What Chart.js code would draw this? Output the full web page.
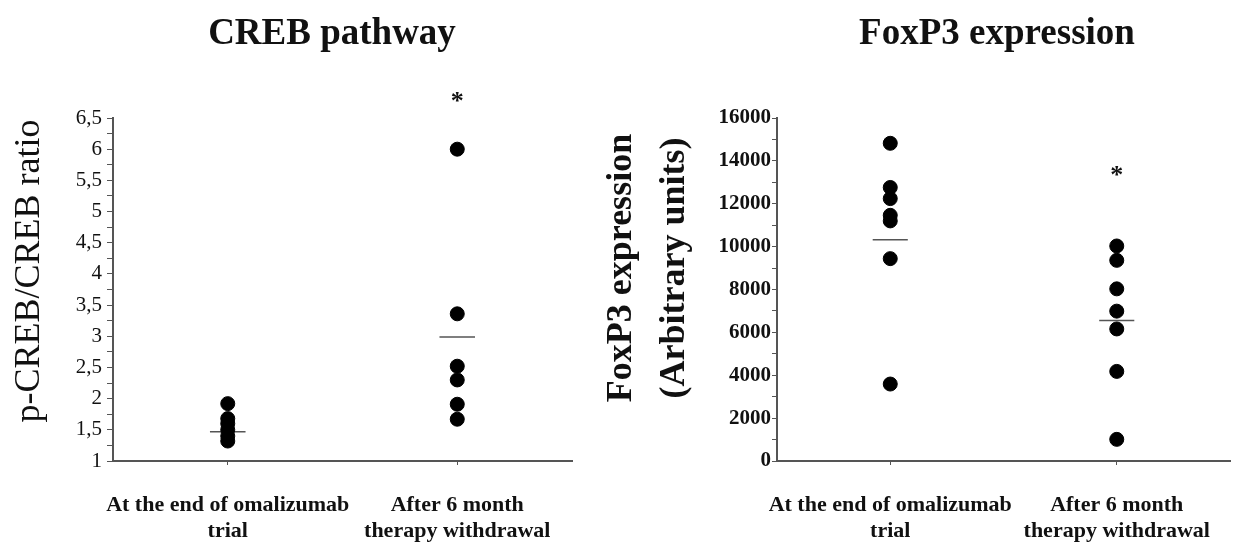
<!DOCTYPE html>
<html>
<head>
<meta charset="utf-8">
<script src="https://cdn.jsdelivr.net/npm/chart.js@4"></script>
<style>
  body { margin: 0; background: #fff; }
  #creb { position: absolute; left: 0; top: 0; }
  #foxp3 { position: absolute; left: 590px; top: 0; }
</style>
</head>
<body>
<canvas id="creb" width="590" height="542"></canvas>
<canvas id="foxp3" width="656" height="542"></canvas>
<script>
// groups on the x axis (placed at 1 and 3 on a 0..4 scale)
var categories = [["At the end of omalizumab", "trial"], ["After 6 month", "therapy withdrawal"]];
var groupPos = [1, 3];

// CREB pathway: p-CREB/CREB ratio
var crebEnd = [1.92, 1.68, 1.6, 1.5, 1.4, 1.32];
var crebAfter = [6.0, 3.36, 2.52, 2.3, 1.91, 1.67];
var crebMeans = [1.47, 2.99];
var crebStar = 6.82;

// FoxP3 expression (arbitrary units)
var foxEnd = [14820, 12760, 12240, 11460, 11200, 9440, 3590];
var foxAfter = [10030, 9360, 8030, 6990, 6160, 4180, 1010];
var foxMeans = [10320, 6550];
var foxStar = 13490;

var serif = "'Liberation Serif', 'Times New Roman', serif";
var meanHalf = 0.155;

function pts(i, vals) {
    return vals.map(function (v) { return { x: groupPos[i], y: v }; });
}

function buildDatasets(g1, g2, means) {
    var sets = [{
        data: pts(0, g1).concat(pts(1, g2)),
        backgroundColor: '#000',
        borderColor: '#000',
        pointRadius: 7,
        pointHoverRadius: 7
    }];
    means.forEach(function (m, i) {
        sets.push({
            type: 'line',
            data: [{ x: groupPos[i] - meanHalf, y: m }, { x: groupPos[i] + meanHalf, y: m }],
            borderColor: '#555',
            borderWidth: 1.5,
            pointRadius: 0
        });
    });
    return sets;
}

// draws the chart title, the y axis title and the significance star
var textPlugin = {
    id: 'figText',
    afterDraw: function (chart, args, o) {
        var ctx = chart.ctx;
        ctx.save();
        ctx.fillStyle = '#111';
        ctx.textAlign = 'center';
        ctx.textBaseline = 'alphabetic';
        ctx.font = 'bold 37px ' + serif;
        ctx.fillText(o.title, o.titleX, 44);

        // star over the second group, placed through the scales
        var sx = chart.scales.x.getPixelForValue(groupPos[1]);
        var sy = chart.scales.y.getPixelForValue(o.star);
        ctx.font = 'bold 26px ' + serif;
        ctx.fillText('*', sx, sy + 11);

        ctx.font = o.yFont;
        ctx.textBaseline = 'middle';
        o.yTitle.forEach(function (line, k) {
            ctx.save();
            ctx.translate(o.yTitleX[k], o.yTitleY);
            ctx.rotate(-Math.PI / 2);
            ctx.fillText(line, 0, 0);
            ctx.restore();
        });
        ctx.restore();
    }
};

function xScale() {
    return {
        type: 'linear',
        min: 0,
        max: 4,
        afterBuildTicks: function (s) {
            s.ticks = groupPos.map(function (p) { return { value: p }; });
        },
        afterFit: function (s) { s.height = 81; },
        grid: { drawOnChartArea: false, tickLength: 4, tickColor: '#555' },
        border: { color: '#555', width: 2 },
        ticks: {
            autoSkip: false,
            maxRotation: 0,
            padding: 27,
            color: '#111',
            font: { family: serif, size: 22, weight: 'bold', lineHeight: 1.2 },
            callback: function (v) { return categories[groupPos.indexOf(v)]; }
        }
    };
}

new Chart(document.getElementById('creb'), {
    type: 'scatter',
    data: { datasets: buildDatasets(crebEnd, crebAfter, crebMeans) },
    plugins: [textPlugin],
    options: {
        responsive: false,
        animation: false,
        devicePixelRatio: 1,
        layout: { padding: { top: 118, right: 18, bottom: 0, left: 0 } },
        scales: {
            x: xScale(),
            y: {
                min: 1,
                max: 6.5,
                afterFit: function (s) { s.width = 113; },
                grid: { drawOnChartArea: false, tickLength: 6, tickColor: '#555' },
                border: { color: '#555', width: 2 },
                ticks: {
                    stepSize: 0.25,
                    autoSkip: false,
                    padding: 5,
                    color: '#111',
                    font: { family: serif, size: 21 },
                    callback: function (v) {
                        return (v * 2) % 1 === 0 ? String(v).replace('.', ',') : '';
                    }
                }
            }
        },
        plugins: {
            legend: { display: false },
            tooltip: { enabled: false },
            figText: {
                title: 'CREB pathway', titleX: 332, star: crebStar,
                yTitle: ['p-CREB/CREB ratio'], yTitleX: [30], yTitleY: 271,
                yFont: '36px ' + serif
            }
        }
    }
});

new Chart(document.getElementById('foxp3'), {
    type: 'scatter',
    data: { datasets: buildDatasets(foxEnd, foxAfter, foxMeans) },
    plugins: [textPlugin],
    options: {
        responsive: false,
        animation: false,
        devicePixelRatio: 1,
        layout: { padding: { top: 118, right: 16, bottom: 0, left: 0 } },
        scales: {
            x: xScale(),
            y: {
                min: 0,
                max: 16000,
                afterFit: function (s) { s.width = 187; },
                grid: { drawOnChartArea: false, tickLength: 5, tickColor: '#555' },
                border: { color: '#555', width: 2 },
                ticks: {
                    stepSize: 1000,
                    autoSkip: false,
                    padding: 1,
                    color: '#111',
                    font: { family: serif, size: 21, weight: 'bold' },
                    callback: function (v) { return v % 2000 === 0 ? String(v) : ''; }
                }
            }
        },
        plugins: {
            legend: { display: false },
            tooltip: { enabled: false },
            figText: {
                title: 'FoxP3 expression', titleX: 407, star: foxStar,
                yTitle: ['FoxP3 expression', '(Arbitrary units)'], yTitleX: [32, 85], yTitleY: 268,
                yFont: 'bold 36px ' + serif
            }
        }
    }
});
</script>
</body>
</html>
